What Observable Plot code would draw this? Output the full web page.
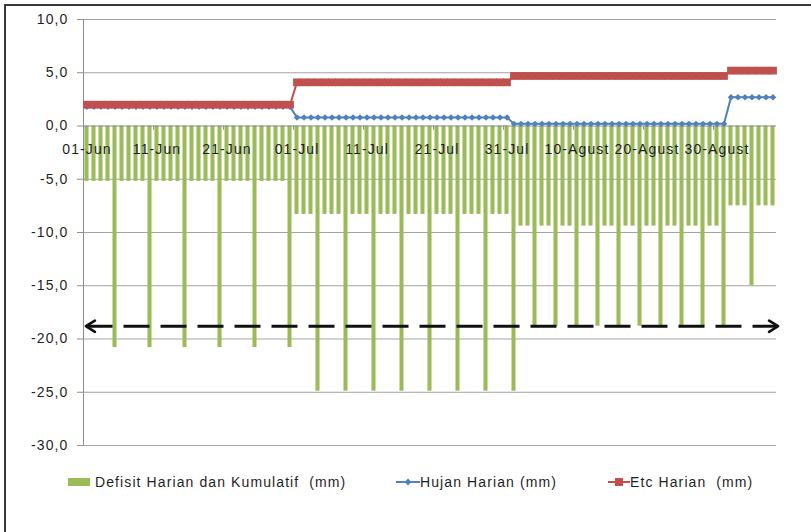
<!DOCTYPE html>
<html><head><meta charset="utf-8">
<script src="https://cdn.jsdelivr.net/npm/d3@7"></script>
<script src="https://cdn.jsdelivr.net/npm/@observablehq/plot@0.6"></script>
<style>
html,body{margin:0;padding:0;background:#fff;}
#wrap{position:relative;width:811px;height:532px;overflow:hidden;font-family:"Liberation Sans",Arial,sans-serif;}
#chart{position:absolute;left:0;top:0;}
#frame{position:absolute;left:4px;top:4px;width:900px;height:600px;border-left:2px solid #3a3a3a;border-top:2px solid #3a3a3a;pointer-events:none;}
#legend{position:absolute;top:474px;left:0;width:811px;height:16px;font-size:14px;letter-spacing:1.1px;color:#1f1f1f;line-height:16px;}
.item{position:absolute;top:0;white-space:pre;}
.sw{position:absolute;top:0;}
</style></head><body>
<div id="wrap"><div id="chart"></div><div id="legend"></div><div id="frame"></div></div>
<script>
// ---- data, one value per day 01-Jun .. 07-Sep ----
const defisit = [
  // Juni
  -5.2,-5.2,-5.2,-5.2,-20.8, -5.2,-5.2,-5.2,-5.2,-20.8, -5.2,-5.2,-5.2,-5.2,-20.8,
  -5.2,-5.2,-5.2,-5.2,-20.8, -5.2,-5.2,-5.2,-5.2,-20.8, -5.2,-5.2,-5.2,-5.2,-20.8,
  // Juli
  -8.3,-8.3,-8.3,-24.9, -8.3,-8.3,-8.3,-24.9, -8.3,-8.3,-8.3,-24.9, -8.3,-8.3,-8.3,-24.9,
  -8.3,-8.3,-8.3,-24.9, -8.3,-8.3,-8.3,-24.9, -8.3,-8.3,-8.3,-24.9, -8.3,-8.3,-8.3,
  // Agustus
  -24.9, -9.4,-9.4,-18.8, -9.4,-9.4,-18.8, -9.4,-9.4,-18.8, -9.4,-9.4,-18.8, -9.4,-9.4,-18.8,
  -9.4,-9.4,-18.8, -9.4,-9.4,-18.8, -9.4,-9.4,-18.8, -9.4,-9.4,-18.8, -9.4,-9.4,-18.8,
  // September
  -7.5,-7.5,-7.5,-15.0,-7.5,-7.5,-7.5
];
const hujan = [
  1.8,1.8,1.8,1.8,1.8,1.8,1.8,1.8,1.8,1.8,1.8,1.8,1.8,1.8,1.8,
  1.8,1.8,1.8,1.8,1.8,1.8,1.8,1.8,1.8,1.8,1.8,1.8,1.8,1.8,1.8,
  0.8,0.8,0.8,0.8,0.8,0.8,0.8,0.8,0.8,0.8,0.8,0.8,0.8,0.8,0.8,0.8,
  0.8,0.8,0.8,0.8,0.8,0.8,0.8,0.8,0.8,0.8,0.8,0.8,0.8,0.8,0.8,
  0.2,0.2,0.2,0.2,0.2,0.2,0.2,0.2,0.2,0.2,0.2,0.2,0.2,0.2,0.2,0.2,
  0.2,0.2,0.2,0.2,0.2,0.2,0.2,0.2,0.2,0.2,0.2,0.2,0.2,0.2,0.2,
  2.7,2.7,2.7,2.7,2.7,2.7,2.7
];
const etc = [
  2.0,2.0,2.0,2.0,2.0,2.0,2.0,2.0,2.0,2.0,2.0,2.0,2.0,2.0,2.0,
  2.0,2.0,2.0,2.0,2.0,2.0,2.0,2.0,2.0,2.0,2.0,2.0,2.0,2.0,2.0,
  4.1,4.1,4.1,4.1,4.1,4.1,4.1,4.1,4.1,4.1,4.1,4.1,4.1,4.1,4.1,4.1,
  4.1,4.1,4.1,4.1,4.1,4.1,4.1,4.1,4.1,4.1,4.1,4.1,4.1,4.1,4.1,
  4.7,4.7,4.7,4.7,4.7,4.7,4.7,4.7,4.7,4.7,4.7,4.7,4.7,4.7,4.7,4.7,
  4.7,4.7,4.7,4.7,4.7,4.7,4.7,4.7,4.7,4.7,4.7,4.7,4.7,4.7,4.7,
  5.2,5.2,5.2,5.2,5.2,5.2,5.2
];
const xLabelIdx = [0, 10, 20, 30, 40, 50, 60, 70, 80, 90];
const xLabels = ["01-Jun","11-Jun","21-Jun","01-Jul","11-Jul","21-Jul","31-Jul","10-Agust","20-Agust","30-Agust"];
const yTicks = [-30, -25, -20, -15, -10, -5, 0, 5, 10];
const arrowY = -18.8;
const seriesNames = ["Defisit Harian dan Kumulatif  (mm)", "Hujan Harian (mm)", "Etc Harian  (mm)"];

// ---- styling ----
const GREEN = "#9BBB59", BLUE = "#4F81BD", RED = "#C0504D";
const GRID = "#a3a3a3", AXIS = "#8e8e8e", TEXT = "#1f1f1f";

const n = defisit.length;
const rows = d3.range(n).map(i => ({i, defisit: defisit[i], hujan: hujan[i], etc: etc[i]}));
const xTickPos = xLabelIdx.map(i => i - 0.5);
const fmt = v => v.toFixed(1).replace(".", ",");

function bigArrow(color, context) {
  const doc = (context && context.document) || document;
  const ns = "http://www.w3.org/2000/svg";
  const m = doc.createElementNS(ns, "marker");
  m.setAttribute("viewBox", "-5 -5 10 10");
  m.setAttribute("markerWidth", 6.67);
  m.setAttribute("markerHeight", 6.67);
  m.setAttribute("orient", "auto-start-reverse");
  m.setAttribute("fill", "none");
  m.setAttribute("stroke", color);
  m.setAttribute("stroke-width", 1.3);
  m.setAttribute("stroke-dasharray", "none");
  m.setAttribute("stroke-linecap", "round");
  m.setAttribute("stroke-linejoin", "round");
  const p = doc.createElementNS(ns, "path");
  p.setAttribute("d", "M-4.2,-2.8L0.3,0L-4.2,2.8");
  m.appendChild(p);
  return m;
}

function build(marker) {
  return Plot.plot({
    width: 811, height: 465,
    marginLeft: 83, marginRight: 35, marginTop: 19, marginBottom: 20,
    style: {background: "transparent", fontFamily: "'Liberation Sans', Arial, sans-serif", fontSize: "14px", letterSpacing: "1.1px", overflow: "visible", color: TEXT},
    x: {domain: [-0.5, n - 0.5], axis: null},
    y: {domain: [-30, 10], axis: null},
    marks: [
      Plot.ruleY(yTicks.filter(v => v !== 0), {y: d => d, stroke: GRID}),
      Plot.rect(rows, {x1: d => d.i - 0.29, x2: d => d.i + 0.29, y1: 0, y2: "defisit", fill: GREEN}),
      Plot.ruleY([0], {y: d => d, stroke: AXIS}),
      Plot.ruleX(xTickPos, {x: d => d, y1: 0, y2: -0.4, stroke: AXIS}),
      Plot.ruleX([-0.5], {x: d => d, stroke: AXIS}),
      Plot.axisY({ticks: yTicks, tickFormat: fmt, tickSize: 6, tickPadding: 9, stroke: AXIS, fill: TEXT, label: null}),
      Plot.text(xLabelIdx, {x: d => d, y: 0, dy: 24, text: (d, k) => xLabels[k], fill: TEXT}),
      Plot.line(rows, {x: "i", y: "hujan", stroke: BLUE, strokeWidth: 2}),
      Plot.dot(rows, {x: "i", y: "hujan", symbol: "diamond2", r: 2.9, fill: BLUE}),
      Plot.line(rows, {x: "i", y: "etc", stroke: RED, strokeWidth: 2}),
      Plot.dot(rows, {x: "i", y: "etc", symbol: "square", r: 4.4, fill: RED}),
      Plot.link([arrowY], {x1: -0.07, x2: n - 0.36, y1: d => d, y2: d => d, stroke: "#111", strokeWidth: 3,
        strokeDasharray: "26,11", markerStart: marker, markerEnd: marker})
    ]
  });
}
let chart;
try { chart = build(bigArrow); } catch (e) { chart = build("arrow"); }
document.getElementById("chart").appendChild(chart);

// ---- legend ----
const legend = document.getElementById("legend");
const items = [
  {sw: `<svg width="22" height="16"><rect x="0" y="4" width="22" height="8" fill="${GREEN}"/></svg>`, swLeft: 68, textLeft: 95},
  {sw: `<svg width="24" height="16"><line x1="0" y1="8" x2="24" y2="8" stroke="${BLUE}" stroke-width="2"/><path d="M12,4.5L15.5,8L12,11.5L8.5,8Z" fill="${BLUE}"/></svg>`, swLeft: 396, textLeft: 420},
  {sw: `<svg width="22" height="16"><line x1="0" y1="8" x2="22" y2="8" stroke="${RED}" stroke-width="2"/><rect x="7" y="4" width="8" height="8" fill="${RED}"/></svg>`, swLeft: 608, textLeft: 630}
];
items.forEach((it, k) => {
  const s = document.createElement("div");
  s.className = "sw"; s.style.left = it.swLeft + "px"; s.innerHTML = it.sw;
  legend.appendChild(s);
  const t = document.createElement("div");
  t.className = "item"; t.style.left = it.textLeft + "px"; t.textContent = seriesNames[k];
  legend.appendChild(t);
});
</script>
</body></html>
